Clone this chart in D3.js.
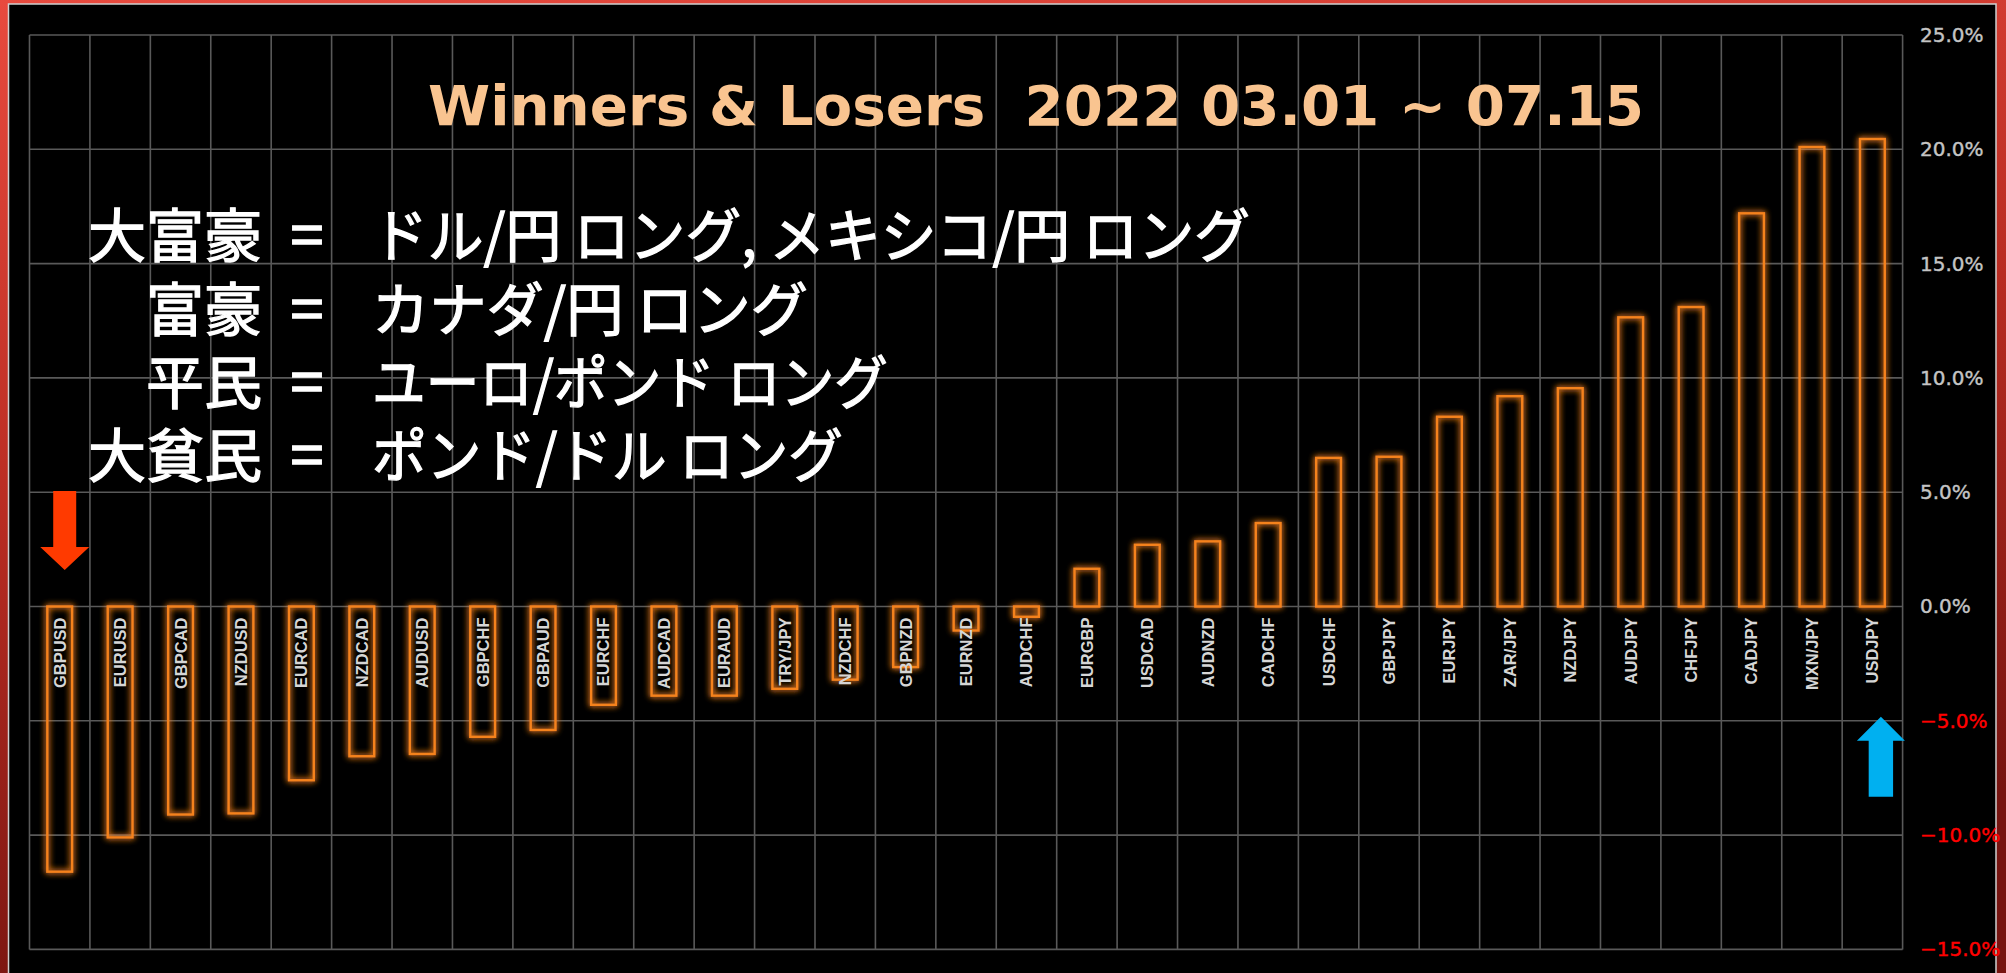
<!DOCTYPE html>
<html>
<head>
<meta charset="utf-8">
<script src="https://cdn.jsdelivr.net/npm/d3@7"></script>
<style>
  html, body { margin: 0; padding: 0; background: #000; }
  svg { display: block; }
</style>
</head>
<body>
<svg id="chart" width="2006" height="973"></svg>
<script>
// ---------------- data ----------------
const categories = ["GBPUSD","EURUSD","GBPCAD","NZDUSD","EURCAD","NZDCAD","AUDUSD","GBPCHF","GBPAUD","EURCHF","AUDCAD","EURAUD","TRY/JPY","NZDCHF","GBPNZD","EURNZD","AUDCHF","EURGBP","USDCAD","AUDNZD","CADCHF","USDCHF","GBPJPY","EURJPY","ZAR/JPY","NZDJPY","AUDJPY","CHFJPY","CADJPY","MXN/JPY","USDJPY"];
const values = [-11.6,-10.1,-9.1,-9.05,-7.6,-6.55,-6.45,-5.7,-5.4,-4.3,-3.9,-3.9,-3.6,-3.2,-2.65,-1.05,-0.45,1.65,2.7,2.85,3.65,6.5,6.55,8.3,9.2,9.55,12.65,13.1,17.2,20.1,20.45];
const yTicks = [-15,-10,-5,0,5,10,15,20,25];
const titleText = "Winners & Losers  2022 03.01 ~ 07.15";
const noteLabels = ["大富豪","富豪","平民","大貧民"];
const noteEq = "＝";
const noteValues = ["ドル/円 ロング, メキシコ/円 ロング","カナダ/円 ロング","ユーロ/ポンド ロング","ポンド/ドル ロング"];

// ---------------- layout ----------------
const W = 2006, H = 973;
const plot = {left: 29.5, right: 1902.6, top: 35, bottom: 949.4};
const svg = d3.select("#chart");
const defs = svg.append("defs");

const grad = defs.append("linearGradient").attr("id","frameGrad")
  .attr("x1","0").attr("y1","0").attr("x2","0.25").attr("y2","1");
grad.append("stop").attr("offset","0").attr("stop-color","#e84a3e");
grad.append("stop").attr("offset","0.5").attr("stop-color","#b82c22");
grad.append("stop").attr("offset","1").attr("stop-color","#761410");

const glow = defs.append("filter").attr("id","glow")
  .attr("x","-50%").attr("y","-50%").attr("width","200%").attr("height","200%");
glow.append("feGaussianBlur").attr("in","SourceGraphic").attr("stdDeviation","3.4").attr("result","b");
glow.append("feComponentTransfer").attr("in","b").attr("result","b2")
  .append("feFuncA").attr("type","linear").attr("slope","1.7");
const m = glow.append("feMerge");
m.append("feMergeNode").attr("in","b2");
m.append("feMergeNode").attr("in","SourceGraphic");

// frame
svg.append("rect").attr("x",0).attr("y",0).attr("width",W).attr("height",H).attr("fill","url(#frameGrad)");
svg.append("rect").attr("x",8.5).attr("y",4).attr("width",1987.5).attr("height",H+10)
  .attr("fill","#000").attr("stroke","#d0d0d0").attr("stroke-width",1.5);

// scales
const x = d3.scaleBand().domain(categories).range([plot.left, plot.right]).padding(0);
const y = d3.scaleLinear().domain([-15, 25]).range([plot.bottom, plot.top]);
const bw = x.bandwidth();
const barW = bw * 0.41;

// grid
const grid = svg.append("g").attr("stroke","#595959").attr("stroke-width",1.6).attr("fill","none");
grid.selectAll("line.h").data(yTicks).join("line").attr("class","h")
  .attr("x1",plot.left).attr("x2",plot.right)
  .attr("y1",d=>y(d)).attr("y2",d=>y(d));
grid.selectAll("line.v").data(d3.range(categories.length+1)).join("line").attr("class","v")
  .attr("x1",i=>plot.left+i*bw).attr("x2",i=>plot.left+i*bw)
  .attr("y1",plot.top).attr("y2",plot.bottom);

// y axis labels (right)
const yAxis = d3.axisRight(y).tickValues(yTicks).tickFormat(d=>d3.format(".1f")(d)+"%").tickSize(0).tickPadding(0);
const ya = svg.append("g").attr("transform",`translate(1920,0)`).call(yAxis);
ya.select(".domain").remove();
ya.selectAll("text")
  .attr("font-family","'DejaVu Sans', Verdana, sans-serif")
  .attr("font-size",20)
  .attr("stroke",d=> d<0 ? "#ff0000" : "#c4c4c4").attr("stroke-width",0.4)
  .attr("fill",d=> d<0 ? "#ff0000" : "#c4c4c4");

// title
svg.append("text")
  .attr("x",428).attr("y",125)
  .attr("font-family","'DejaVu Sans', Verdana, sans-serif")
  .attr("font-weight","bold").attr("font-size",56)
  .attr("fill","#f9c490")
  .attr("textLength",1216).attr("lengthAdjust","spacingAndGlyphs")
  .style("white-space","pre")
  .text(titleText);

// japanese notes
const noteBase = [257, 331, 404, 477];
const noteLens = [878, 436, 516, 471];
const notes = svg.append("g").attr("font-family","'Noto Sans CJK JP', sans-serif")
  .attr("font-size",58).attr("font-weight",400).attr("fill","#ffffff")
  .attr("stroke","#ffffff").attr("stroke-width",1.3);
noteLabels.forEach((t,i)=>{
  notes.append("text").attr("x",262).attr("y",noteBase[i]).attr("text-anchor","end").text(t);
  notes.append("text").attr("x",307).attr("y",noteBase[i]).attr("text-anchor","middle")
    .attr("textLength",40).attr("lengthAdjust","spacingAndGlyphs").text(noteEq);
  notes.append("text").attr("x",372).attr("y",noteBase[i])
    .attr("textLength",noteLens[i]).attr("lengthAdjust","spacingAndGlyphs")
    .style("white-space","pre").text(noteValues[i]);
});

// bars
const data = categories.map((c,i)=>({c, v: values[i]}));
svg.append("g").attr("filter","url(#glow)")
  .selectAll("rect").data(data).join("rect")
  .attr("x",d=>x(d.c)+bw/2-barW/2)
  .attr("y",d=>y(Math.max(0,d.v)))
  .attr("width",barW)
  .attr("height",d=>Math.abs(y(d.v)-y(0)))
  .attr("fill","none")
  .attr("stroke","#f5821e")
  .attr("stroke-width",2.4);

// category labels
svg.append("g").selectAll("text").data(data).join("text")
  .attr("transform",d=>`translate(${x(d.c)+bw/2},${y(0)+11}) rotate(-90)`)
  .attr("text-anchor","end").attr("dy","0.36em")
  .attr("font-family","'Liberation Sans', Arial, sans-serif")
  .attr("font-weight","bold").attr("font-size",16.5)
  .attr("fill","#d6d6d6")
  .text(d=>d.c);

// arrows
function arrowPath(cx, yStart, yHead, yTip, sw, hw){
  return `M${cx-sw},${yStart} L${cx+sw},${yStart} L${cx+sw},${yHead} L${cx+hw},${yHead} L${cx},${yTip} L${cx-hw},${yHead} L${cx-sw},${yHead} Z`;
}
const cFirst = x(categories[0]) + bw/2 + 5;
svg.append("path").attr("d", arrowPath(cFirst, y(5.05), y(2.6), y(1.6), 11.5, 24.5)).attr("fill","#ff3a00");
const cLast = x(categories[categories.length-1]) + bw/2 + 8.5;
svg.append("path").attr("d", arrowPath(cLast, y(-8.32), y(-5.87), y(-4.82), 12.2, 24)).attr("fill","#00b0f0");
</script>
</body>
</html>
